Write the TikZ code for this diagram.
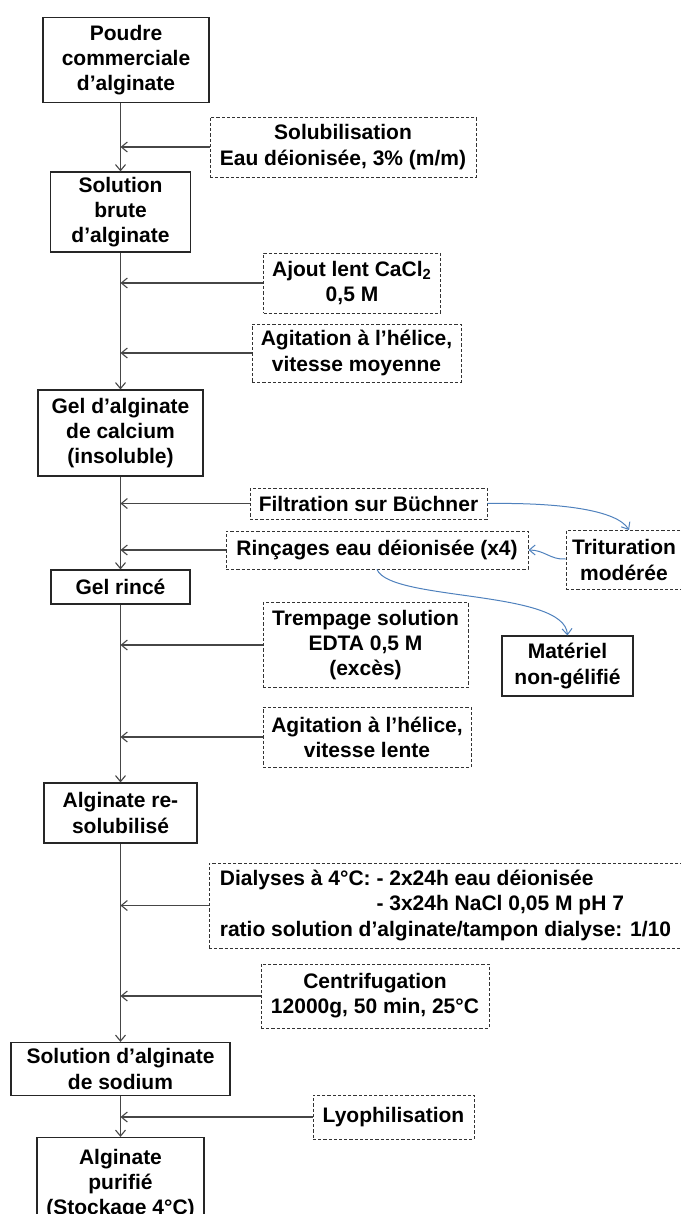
\documentclass[tikz,border=0pt]{standalone}
\usepackage{fontspec}
\setmainfont{Liberation Sans}
\usetikzlibrary{arrows.meta}
\definecolor{fleche}{RGB}{70,70,70}
\definecolor{bleu}{RGB}{79,129,189}
\tikzset{
  etape/.style={draw=black!85, line width=0.6pt, align=center, inner sep=0pt,
    font=\fontsize{10.5}{12.6}\selectfont\bfseries},
  traitement/.style={etape, draw=black!80, line width=0.45pt, dash pattern=on 1.6pt off 1pt},
  taille/.style 2 args={minimum width=#1*0.5pt, minimum height=#2*0.5pt},
  fl/.style={draw=fleche, line width=0.55pt, -{Straight Barb[length=3pt,width=5pt]}},
  flb/.style={draw=bleu, line width=0.5pt, -{Straight Barb[length=3pt,width=5pt]}},
}
\begin{document}
\begin{tikzpicture}[x=0.5pt,y=-0.5pt]
    \useasboundingbox (0,0) rectangle (680,1214);
    \node[etape, taille={166}{85}] (poudre) at (126,60) {Poudre\\commerciale\\d’alginate};
    \node[etape, taille={140}{80}] (brute) at (120.5,212) {Solution\\brute\\d’alginate};
    \node[etape, taille={165}{86}] (gelca) at (120.5,433) {Gel d’alginate\\de calcium\\(insoluble)};
    \node[etape, taille={139}{34}] (rince) at (120.5,587) {Gel rincé};
    \node[etape, taille={153}{60}] (resol) at (120.5,813) {Alginate re-\\solubilisé};
    \node[etape, taille={219}{53}] (sodium) at (120.5,1069) {Solution d’alginate\\de sodium};
    \node[etape, taille={167}{93}] (purifie) at (120.5,1184) {Alginate\\purifié\\(Stockage 4°C)};
        \node[traitement, taille={266}{60}] (solub) at (343,147) {Solubilisation\\Eau déionisée, 3\% (m/m)};
        \node[traitement, taille={177}{60}] (cacl) at (352,283) {Ajout lent CaCl\textsubscript{2}\\0,5 M};
        \node[traitement, taille={209}{58}] (agit1) at (356.5,353) {Agitation à l’hélice,\\vitesse moyenne};
        \node[traitement, taille={237}{31}] (filt) at (368.5,503.5) {Filtration sur Büchner};
        \node[traitement, taille={302}{38}] (rinc) at (377,550) {Rinçages eau déionisée (x4)};
        \node[traitement, taille={116}{59}] (trit) at (624,560) {Trituration\\modérée};
        \node[etape, taille={131}{60}] (mater) at (567.5,666) {Matériel\\non-gélifié};
        \node[traitement, taille={205}{85}] (edta) at (365.5,645) {Trempage solution\\EDTA 0,5 M\\(excès)};
        \node[traitement, taille={208}{60}] (agit2) at (367,737) {Agitation à l’hélice,\\vitesse lente};
        \node[traitement, taille={473}{85}, align=left] (dial) at (445.5,905.5)
          {Dialyses à 4°C: - 2x24h eau déionisée\\\hphantom{Dialyses à 4°C: }- 3x24h NaCl 0,05 M pH 7\\ratio solution d’alginate/tampon dialyse: 1/10};
        \node[traitement, taille={228}{64}] (centri) at (375,996) {Centrifugation\\12000g, 50 min, 25°C};
        \node[traitement, taille={161}{44}] (lyo) at (393.5,1117) {Lyophilisation};
    \draw[fl] (poudre.south -| brute.north) -- (brute.north);
    \draw[fl] (brute) -- (gelca);
    \draw[fl] (gelca) -- (rince);
    \draw[fl] (rince) -- (resol);
    \draw[fl] (resol) -- (sodium);
    \draw[fl] (sodium) -- (purifie);
    \foreach \t in {solub,cacl,agit1,filt,rinc,edta,agit2,dial,centri,lyo}
        \draw[fl] (\t.west) -- (\t.west -| brute.north);
    \draw[flb] (filt.east) .. controls +(73,-1) and +(-12,-20) .. ([xshift=2.5pt]trit.north);
    \draw[flb] ([yshift=0.5pt]trit.west) .. controls +(-15,1) and +(16,0) .. (rinc.east);
    \draw[flb] (rinc.south) .. controls +(13,32) and +(-3,-46) .. (mater.north);
  \end{tikzpicture}
\end{document}
